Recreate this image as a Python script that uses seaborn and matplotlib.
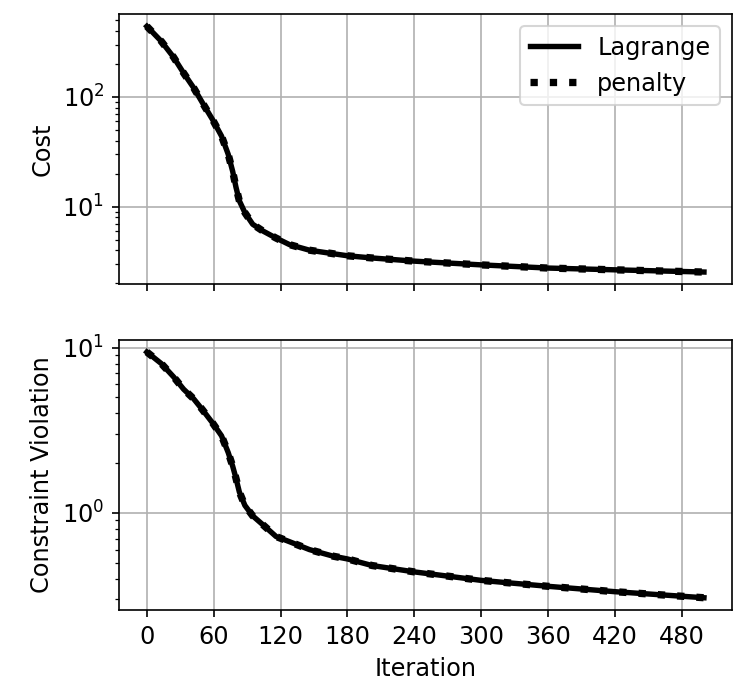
import matplotlib
matplotlib.use("Agg")
import matplotlib.pyplot as plt
import seaborn as sns
import pandas as pd

# Data
iteration = [0, 13, 24, 33, 42, 50, 59, 67, 73, 77, 80, 83, 88, 95, 104, 116,
             128, 146, 167, 180, 202, 240, 300, 360, 420, 500]
cost_lagrange = [440, 321, 230, 165, 121, 88, 62, 44, 30, 21, 15, 11.3, 8.8, 6.9,
                 6.0, 5.16, 4.5, 4.0, 3.72, 3.56, 3.40, 3.18, 2.94, 2.75, 2.65, 2.53]
cost_penalty = [440, 321, 230, 165, 121, 88, 62, 44, 30, 21, 15, 11.3, 8.8, 6.9,
                6.0, 5.16, 4.5, 4.0, 3.72, 3.56, 3.40, 3.18, 2.94, 2.75, 2.65, 2.53]
viol_lagrange = [9.4, 8.0, 6.65, 5.6, 4.9, 4.2, 3.5, 2.93, 2.32, 1.92, 1.62, 1.34,
                 1.11, 0.96, 0.85, 0.72, 0.67, 0.60, 0.548, 0.527, 0.481, 0.44,
                 0.391, 0.36, 0.334, 0.307]
viol_penalty = [9.4, 8.0, 6.65, 5.6, 4.9, 4.2, 3.5, 2.93, 2.32, 1.92, 1.62, 1.34,
                1.11, 0.96, 0.85, 0.72, 0.67, 0.60, 0.548, 0.527, 0.481, 0.44,
                0.391, 0.36, 0.334, 0.307]
xticks = [0, 60, 120, 180, 240, 300, 360, 420, 480]

df = pd.DataFrame({"iteration": iteration,
                   "cost_l": cost_lagrange, "cost_p": cost_penalty,
                   "viol_l": viol_lagrange, "viol_p": viol_penalty})

plt.rcParams['font.size'] = 11.5
fig, (ax1, ax2) = plt.subplots(2, 1, sharex=True, figsize=(746 / 150, 694 / 150), dpi=150)
fig.subplots_adjust(left=0.1595, right=0.981, top=0.9798, bottom=0.121, hspace=0.205)

sns.lineplot(data=df, x="iteration", y="cost_l", ax=ax1, color="black", lw=2.6,
             linestyle="-", label="Lagrange")
sns.lineplot(data=df, x="iteration", y="cost_p", ax=ax1, color="black", lw=3.5,
             linestyle=":", label="penalty")
sns.lineplot(data=df, x="iteration", y="viol_l", ax=ax2, color="black", lw=2.6,
             linestyle="-", legend=False)
sns.lineplot(data=df, x="iteration", y="viol_p", ax=ax2, color="black", lw=3.5,
             linestyle=":", legend=False)

for ax in (ax1, ax2):
    ax.set_yscale("log")
    ax.grid(True, which="major", color="#b0b0b0", lw=0.8)
    ax.set_xticks(xticks)

ax1.set_ylabel("Cost")
ax1.set_xlabel("")
ax2.set_ylabel("Constraint Violation")
ax2.set_xlabel("Iteration")
ax1.legend(loc="upper right")

fig.savefig("out.png", dpi=150)
